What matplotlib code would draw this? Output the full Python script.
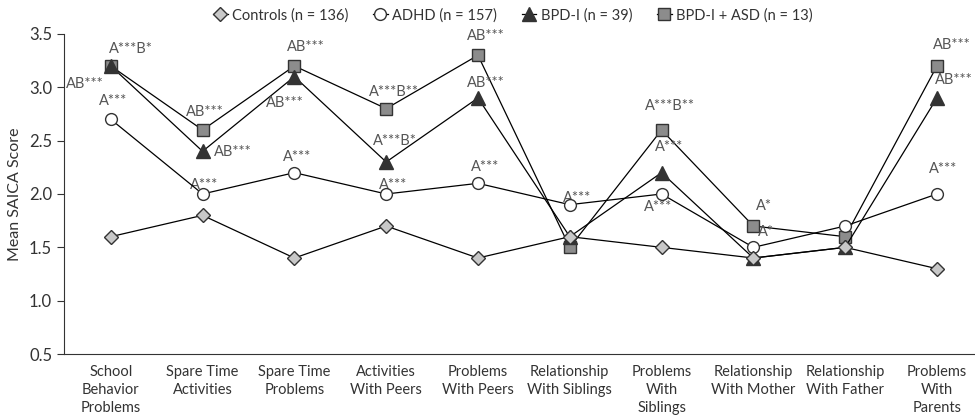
import matplotlib
matplotlib.use("Agg")
import matplotlib.pyplot as plt

plt.rcParams["font.family"] = ["Lato", "DejaVu Sans"]

categories = ["School\nBehavior\nProblems", "Spare Time\nActivities", "Spare Time\nProblems",
              "Activities\nWith Peers", "Problems\nWith Peers", "Relationship\nWith Siblings",
              "Problems\nWith\nSiblings", "Relationship\nWith Mother", "Relationship\nWith Father",
              "Problems\nWith\nParents"]

controls = [1.6, 1.8, 1.4, 1.7, 1.4, 1.6, 1.5, 1.4, 1.5, 1.3]
adhd = [2.7, 2.0, 2.2, 2.0, 2.1, 1.9, 2.0, 1.5, 1.7, 2.0]
bpd = [3.2, 2.4, 3.1, 2.3, 2.9, 1.6, 2.2, 1.4, 1.5, 2.9]
bpd_asd = [3.2, 2.6, 3.2, 2.8, 3.3, 1.5, 2.6, 1.7, 1.6, 3.2]

labels = ["Controls (n = 136)", "ADHD (n = 157)", "BPD-I (n = 39)", "BPD-I + ASD (n = 13)"]

# significance labels: (category index, text, x offset, y value)
annotations = [
    (0, "A***B*", 0.22, 3.36), (0, "AB***", -0.28, 3.03), (0, "A***", 0.02, 2.87),
    (1, "AB***", 0.02, 2.77), (1, "AB***", 0.33, 2.39), (1, "A***", 0.02, 2.08),
    (2, "AB***", 0.12, 3.38), (2, "AB***", -0.10, 2.85), (2, "A***", 0.03, 2.35),
    (3, "A***B**", 0.09, 2.96), (3, "A***B*", 0.09, 2.50), (3, "A***", 0.08, 2.08),
    (4, "AB***", 0.09, 3.48), (4, "AB***", 0.09, 3.04), (4, "A***", 0.08, 2.25),
    (5, "A***", 0.08, 1.96), (6, "A***B**", 0.09, 2.82), (6, "A***", 0.08, 2.44),
    (6, "A***", -0.04, 1.88), (7, "A*", 0.12, 1.89), (7, "A*", 0.14, 1.64),
    (9, "AB***", 0.16, 3.40), (9, "AB***", 0.18, 3.07), (9, "A***", 0.07, 2.23),
]

fig = plt.figure(figsize=(9.75, 4.19), dpi=100)
ax = fig.add_axes([0.0656, 0.155, 0.934, 0.764])

x = range(len(categories))
line_kw = dict(color="black", linewidth=0.9, markeredgecolor="#333333", markeredgewidth=1.0)
ax.plot(x, bpd_asd, marker="s", markersize=8, markerfacecolor="#8c8c8c", label=labels[3], zorder=2, **line_kw)
ax.plot(x, bpd, marker="^", markersize=9.5, markerfacecolor="#333333", label=labels[2], zorder=3, **line_kw)
ax.plot(x, adhd, marker="o", markersize=8.5, markerfacecolor="white", label=labels[1], zorder=4, **line_kw)
ax.plot(x, controls, marker="D", markersize=7, markerfacecolor="#c8c8c8", label=labels[0], zorder=5, **line_kw)

for i, txt, dx, y in annotations:
    ax.text(i + dx, y, txt, ha="center", va="center", fontsize=10.5, color="#555555")

ax.set_xlim(-0.51, 9.41)
ax.set_ylim(0.5, 3.5)
ax.set_yticks([0.5, 1.0, 1.5, 2.0, 2.5, 3.0, 3.5])
ax.set_yticklabels(["0.5", "1.0", "1.5", "2.0", "2.5", "3.0", "3.5"])
ax.set_xticks(list(x))
ax.set_xticklabels(categories, fontsize=10.5, color="#333333", linespacing=1.35)
ax.tick_params(axis="x", length=0, pad=8)
ax.tick_params(axis="y", length=5, labelsize=12, colors="#333333", direction="out")
ax.set_ylabel("Mean SAICA Score", fontsize=11.5, color="#333333", labelpad=5)
ax.spines["top"].set_visible(False)
ax.spines["right"].set_visible(False)
ax.spines["left"].set_color("#333333")
ax.spines["bottom"].set_color("#333333")

h, l = ax.get_legend_handles_labels()
fig.legend(h[::-1], l[::-1], loc="center", bbox_to_anchor=(0.526, 0.964), ncol=4, frameon=False,
           fontsize=10.5, handletextpad=0.3, columnspacing=1.7, handlelength=1.0, borderpad=0,
           labelcolor="#333333")

fig.savefig("out.png", dpi=100)
